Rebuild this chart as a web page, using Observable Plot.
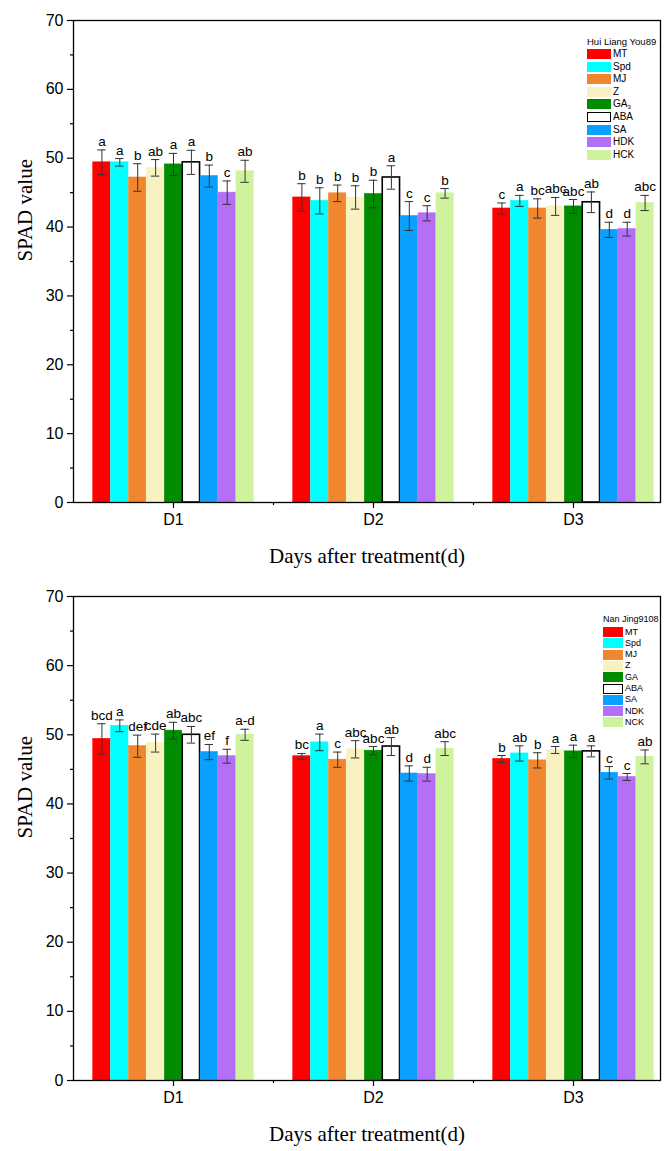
<!DOCTYPE html>
<html><head><meta charset="utf-8">
<script src="https://cdn.jsdelivr.net/npm/d3@7"></script>
<script src="https://cdn.jsdelivr.net/npm/@observablehq/plot@0.6"></script>
<style>
body{margin:0;background:#fff;}
#wrap{position:relative;width:665px;height:1151px;overflow:hidden;}
.pl{position:absolute;left:0;}
.legend{position:absolute;font-family:Arial,"Liberation Sans",sans-serif;color:#000;}
.legend .t{position:absolute;white-space:nowrap;line-height:1;}
.legend .sw{position:absolute;box-sizing:border-box;}
.legend .lb{position:absolute;white-space:nowrap;line-height:1;}
</style></head><body><div id="wrap"></div>
<script>
const days = ["D1", "D2", "D3"];
const treatTop = ["MT", "Spd", "MJ", "Z", "GA3", "ABA", "SA", "HDK", "HCK"];
const treatBottom = ["MT", "Spd", "MJ", "Z", "GA", "ABA", "SA", "NDK", "NCK"];
const colors = ["#ff0000", "#00ffff", "#f0862e", "#f7f2c0", "#008c00", "#ffffff", "#0aa0ff", "#b36ff5", "#cff29c"];

const meansTop = [
  [49.4, 49.4, 47.2, 48.6, 49.1, 49.4, 47.4, 45.0, 48.1],
  [44.3, 43.8, 44.9, 44.3, 44.8, 47.2, 41.6, 42.0, 44.9],
  [42.7, 43.8, 42.7, 43.0, 43.0, 43.6, 39.6, 39.7, 43.5]
];
const errTop = [
  [1.8, 0.55, 2.0, 1.2, 1.6, 1.75, 1.6, 1.7, 1.6],
  [2.0, 1.9, 1.2, 1.7, 2.0, 1.7, 2.1, 1.1, 0.7],
  [0.8, 0.8, 1.4, 1.3, 1.0, 1.5, 1.1, 1.0, 1.1]
];
const lettersTop = [
  ["a", "a", "b", "ab", "a", "a", "b", "c", "ab"],
  ["b", "b", "b", "b", "b", "a", "c", "c", "b"],
  ["c", "a", "bc", "abc", "abc", "ab", "d", "d", "abc"]
];

const meansBottom = [
  [49.4, 51.3, 48.35, 48.8, 50.6, 50.0, 47.5, 46.9, 50.0],
  [46.9, 48.9, 46.4, 47.9, 47.7, 48.3, 44.4, 44.3, 48.0],
  [46.5, 47.3, 46.3, 47.8, 47.6, 47.6, 44.5, 43.9, 46.8]
];
const errBottom = [
  [2.2, 0.85, 1.6, 1.3, 1.2, 1.2, 1.1, 1.0, 0.8],
  [0.4, 1.2, 1.1, 1.25, 0.6, 1.3, 1.1, 1.0, 1.0],
  [0.5, 1.1, 1.1, 0.5, 0.9, 0.8, 0.9, 0.5, 1.0]
];
const lettersBottom = [
  ["bcd", "a", "def", "cde", "ab", "abc", "ef", "f", "a-d"],
  ["bc", "a", "c", "abc", "abc", "ab", "d", "d", "abc"],
  ["b", "ab", "b", "a", "a", "a", "c", "c", "ab"]
];

const yTicks = [0, 10, 20, 30, 40, 50, 60, 70];
const yMinor = [5, 15, 25, 35, 45, 55, 65];
const xLabel = "Days after treatment(d)";
const yLabel = "SPAD value";

const sans = "Arial, 'Liberation Sans', sans-serif";
const serif = "'Times New Roman', 'Liberation Serif', serif";

function makePanel(names, means, errs, letters, height, marginTop, marginBottom) {
  const bw = 0.0895;
  const rows = [];
  days.forEach((d, di) => names.forEach((n, ti) => {
    const x1 = (di + 1) + (ti - 4.5) * bw;
    rows.push({
      day: d, name: n, color: colors[ti],
      edge: n === "ABA" ? "#000" : colors[ti],
      mean: means[di][ti], err: errs[di][ti], letter: letters[di][ti],
      x1, x2: x1 + bw, xc: x1 + bw / 2
    });
  }));
  const cap = 0.021;
  return Plot.plot({
    width: 665, height, marginLeft: 73, marginRight: 5, marginTop, marginBottom,
    style: {fontFamily: sans, background: "#fff", overflow: "visible"},
    x: {type: "linear", domain: [0.5, 3.435]},
    y: {domain: [0, 70]},
    color: {type: "identity"},
    marks: [
      Plot.rectY(rows, {x1: "x1", x2: "x2", y1: 0, y2: "mean", fill: "color", stroke: "edge",
        strokeWidth: d => d.name === "ABA" ? 1.6 : 0.6, insetLeft: 0.3, insetRight: 0.3}),
      Plot.ruleX(rows, {x: "xc", y1: d => d.mean - d.err, y2: d => d.mean + d.err, stroke: "#333", strokeWidth: 1}),
      Plot.ruleY(rows, {y: d => d.mean + d.err, x1: d => d.xc - cap, x2: d => d.xc + cap, stroke: "#333", strokeWidth: 1}),
      Plot.ruleY(rows, {y: d => d.mean - d.err, x1: d => d.xc - cap, x2: d => d.xc + cap, stroke: "#333", strokeWidth: 1}),
      Plot.text(rows, {x: "xc", y: d => d.mean + d.err, text: "letter", dy: -4, lineAnchor: "bottom",
        fontSize: 13.5, fontFamily: sans, fill: "#000"}),
      Plot.axisY({ticks: yTicks, tickSize: 6, tickPadding: 4, fontSize: 16, label: null, stroke: "#000", strokeWidth: 1.2, fill: "#000"}),
      Plot.axisY({ticks: yMinor, tickSize: 3, tickFormat: () => "", label: null, stroke: "#000", strokeWidth: 1.2}),
      Plot.axisX({ticks: [1, 2, 3], tickFormat: d => days[d - 1], tickSize: 6, tickPadding: 5, fontSize: 16, label: null, stroke: "#000", strokeWidth: 1.2, fill: "#000"}),
      Plot.axisX({ticks: [1.5, 2.5], tickSize: 3, tickFormat: () => "", label: null, stroke: "#000", strokeWidth: 1.2}),
      Plot.frame({stroke: "#000", strokeWidth: 1.3}),
      Plot.text([yLabel], {frameAnchor: "left", dx: -48, rotate: -90, fontSize: 21, fontFamily: serif, fill: "#000"}),
      Plot.text([xLabel], {frameAnchor: "bottom", dy: 60, fontSize: 21, fontFamily: serif, fill: "#000"})
    ]
  });
}

const wrap = document.getElementById("wrap");
const p1 = document.createElement("div"); p1.className = "pl"; p1.style.top = "0px";
p1.appendChild(makePanel(treatTop, meansTop, errTop, lettersTop, 578, 20, 76));
wrap.appendChild(p1);
const p2 = document.createElement("div"); p2.className = "pl"; p2.style.top = "578px";
p2.appendChild(makePanel(treatBottom, meansBottom, errBottom, lettersBottom, 573, 18, 71));
wrap.appendChild(p2);

function legend(title, names, cfg) {
  const L = document.createElement("div");
  L.className = "legend";
  L.style.left = cfg.left + "px"; L.style.top = cfg.top + "px";
  const t = document.createElement("div"); t.className = "t";
  t.style.left = "0px"; t.style.top = "0px"; t.style.fontSize = cfg.titleSize + "px";
  t.textContent = title; L.appendChild(t);
  names.forEach((n, i) => {
    const y = cfg.first + i * cfg.step;
    const s = document.createElement("div"); s.className = "sw";
    s.style.left = "0px"; s.style.top = y + "px"; s.style.width = cfg.sw + "px"; s.style.height = cfg.sh + "px";
    s.style.background = colors[i];
    s.style.border = n === "ABA" ? "1.5px solid #000" : "none";
    L.appendChild(s);
    const lb = document.createElement("div"); lb.className = "lb";
    lb.style.left = (cfg.sw + 2) + "px"; lb.style.top = (y + cfg.sh / 2 - cfg.fs / 2) + "px";
    lb.style.fontSize = cfg.fs + "px";
    if (n === "GA3") { lb.innerHTML = "GA<sub style='font-size:6px;vertical-align:-2px'>3</sub>"; }
    else lb.textContent = n;
    L.appendChild(lb);
  });
  wrap.appendChild(L);
}
legend("Hui Liang You89", treatTop, {left: 587, top: 37, titleSize: 9.5, first: 12, step: 12.6, sw: 24, sh: 10, fs: 10});
legend("Nan Jing9108", treatBottom, {left: 603, top: 615, titleSize: 9, first: 12, step: 11.3, sw: 20, sh: 10, fs: 9});
</script></body></html>
